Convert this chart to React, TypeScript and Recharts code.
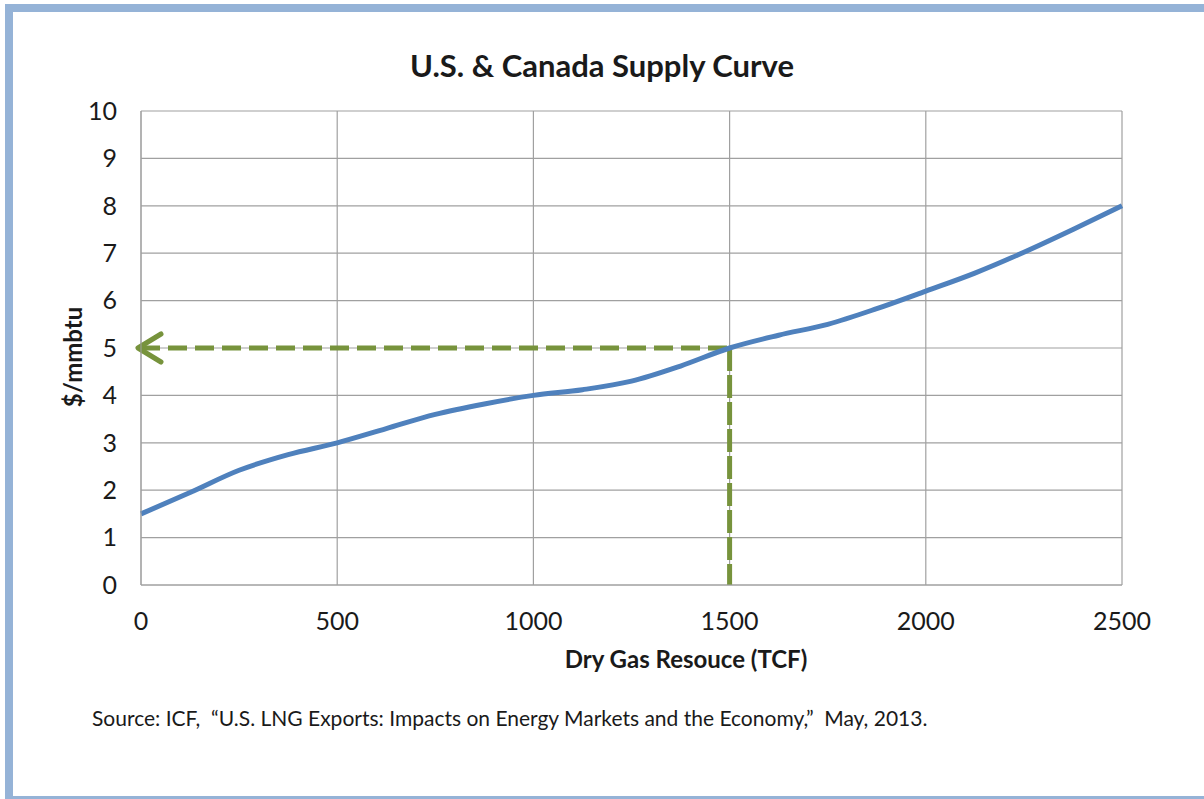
import React from 'react';
import {
    LineChart,
    Line,
    XAxis,
    YAxis,
    CartesianGrid,
    ReferenceLine,
    Label
} from 'recharts';

// Dry gas resource (TCF) and price ($/mmbtu)
const resource = [0, 125, 250, 375, 500, 625, 750, 875, 1000, 1125, 1250, 1375, 1500, 1625, 1750, 1875, 2000, 2125, 2250, 2375, 2500];
const price = [1.5, 1.95, 2.42, 2.75, 3.0, 3.3, 3.6, 3.82, 4.0, 4.12, 4.3, 4.62, 5.0, 5.27, 5.5, 5.83, 6.2, 6.58, 7.02, 7.5, 8.0];

const xTicks = [0, 500, 1000, 1500, 2000, 2500];
const yTicks = [0, 1, 2, 3, 4, 5, 6, 7, 8, 9, 10];

// the highlighted point on the curve
const markX = 1500;
const markY = 5;

const data = resource.map((r, i) => ({ r, p: price[i] }));

const FONT = 'Lato, "Open Sans", sans-serif';
const GREEN = '#77933C';
const BLUE = '#4F81BD';
const GRID = '#A0A0A0';
const INK = '#1a1a1a';

const ArrowLine = (props: any) => {
    const { x1, y1, x2, y2 } = props;
    const left = Math.min(x1, x2);
    return (
        <g>
            <line x1={x1} y1={y1} x2={x2} y2={y2} stroke={GREEN} strokeWidth={5} strokeDasharray="19 8" />
            <polyline
                points={`${left + 20},${y1 - 14} ${left - 3},${y1} ${left + 20},${y1 + 14}`}
                fill="none"
                stroke={GREEN}
                strokeWidth={5}
                strokeLinecap="round"
                strokeLinejoin="round"
            />
        </g>
    );
};

const DropLine = (props: any) => {
    const { x1, y1, x2, y2 } = props;
    return <line x1={x1} y1={y1} x2={x2} y2={y2} stroke={GREEN} strokeWidth={5} strokeDasharray="23 4" />;
};

const App: React.FC = () => {
    return (
        <div style={{ position: 'absolute', left: 0, top: 0, width: 1204, height: 799, overflow: 'hidden', background: '#fff', fontFamily: FONT }}>
            <div style={{
                position: 'absolute', left: 5, top: 4, width: 1230, height: 800,
                border: '8px solid #95B3D7', boxSizing: 'border-box'
            }} />
            <div style={{
                position: 'absolute', left: 0, top: 47, width: 1204, textAlign: 'center',
                fontSize: 31, fontWeight: 700, color: INK, lineHeight: 1.2
            }}>
                U.S. &amp; Canada Supply Curve
            </div>
            <div style={{ position: 'absolute', left: 0, top: 0 }}>
                <LineChart
                    width={1204}
                    height={799}
                    data={data}
                    margin={{ top: 111, right: 82, left: 81, bottom: 134 }}
                >
                    <CartesianGrid stroke={GRID} strokeWidth={1.2} />
                    <XAxis
                        dataKey="r"
                        type="number"
                        domain={[0, 2500]}
                        ticks={xTicks}
                        axisLine={{ stroke: GRID }}
                        tickLine={false}
                        tickSize={0}
                        tickMargin={27}
                        height={80}
                        tick={{ fontSize: 25, fill: INK, fontFamily: FONT }}
                    >
                        <Label
                            content={() => (
                                <text
                                    x={686}
                                    y={668}
                                    textAnchor="middle"
                                    fontSize={24}
                                    fontWeight={700}
                                    fill={INK}
                                    fontFamily={FONT}
                                >
                                    Dry Gas Resouce (TCF)
                                </text>
                            )}
                        />
                    </XAxis>
                    <YAxis
                        type="number"
                        domain={[0, 10]}
                        ticks={yTicks}
                        axisLine={{ stroke: GRID }}
                        tickLine={false}
                        tickSize={0}
                        tickMargin={24}
                        width={60}
                        tick={{ fontSize: 25, fill: INK, fontFamily: FONT }}
                    >
                        <Label
                            content={() => {
                                const cx = 72;
                                const cy = 357;
                                return (
                                    <text
                                        x={cx}
                                        y={cy}
                                        transform={`rotate(-90, ${cx}, ${cy})`}
                                        textAnchor="middle"
                                        dominantBaseline="central"
                                        fontSize={24}
                                        fontWeight={700}
                                        fill={INK}
                                        fontFamily={FONT}
                                    >
                                        $/mmbtu
                                    </text>
                                );
                            }}
                        />
                    </YAxis>
                    <ReferenceLine
                        segment={[{ x: 0, y: markY }, { x: markX, y: markY }]}
                        shape={ArrowLine}
                    />
                    <ReferenceLine
                        segment={[{ x: markX, y: markY }, { x: markX, y: 0 }]}
                        shape={DropLine}
                    />
                    <Line
                        type="monotone"
                        dataKey="p"
                        stroke={BLUE}
                        strokeWidth={5}
                        dot={false}
                        activeDot={false}
                        isAnimationActive={false}
                    />
                </LineChart>
            </div>
            <div style={{
                position: 'absolute', left: 92, top: 705, fontSize: 21, color: INK, whiteSpace: 'pre'
            }}>
                {'Source: ICF,  \u201cU.S. LNG Exports: Impacts on Energy Markets and the Economy,\u201d  May, 2013.'}
            </div>
        </div>
    );
};

export default App;
